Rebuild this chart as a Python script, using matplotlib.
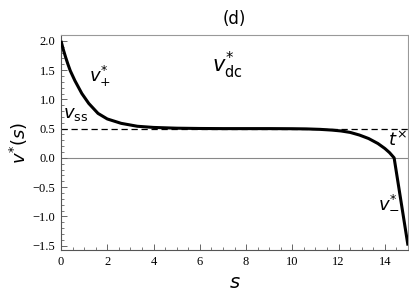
import matplotlib
matplotlib.use('Agg')
import matplotlib.pyplot as plt
from matplotlib.ticker import MultipleLocator

# curve
s_vals = [0.0, 0.1, 0.2, 0.3, 0.4, 0.6, 0.9, 1.2, 1.6, 2.0, 2.6, 3.3, 4.0, 5.0, 6.0,
          7.0, 8.0, 9.0, 10.0, 10.6, 11.2, 11.7, 12.1, 12.5, 12.9, 13.3, 13.7, 14.0,
          14.2, 14.4, 15.0]
v_vals = [2.0, 1.85, 1.72, 1.6, 1.49, 1.32, 1.10, 0.93, 0.76, 0.665, 0.59, 0.54, 0.52,
          0.507, 0.502, 0.5, 0.5, 0.5, 0.498, 0.495, 0.487, 0.475, 0.46, 0.435, 0.39,
          0.33, 0.245, 0.16, 0.09, 0.0, -1.5]
v_ss = 0.5

x_ticks = [0, 2, 4, 6, 8, 10, 12, 14]
y_ticks = [-1.5, -1.0, -0.5, 0.0, 0.5, 1.0, 1.5, 2.0]

plt.rcParams['mathtext.fontset'] = 'dejavusans'

fig = plt.figure(figsize=(4.09, 3.01), dpi=100)
ax = fig.add_axes([61 / 409, 51 / 301, 347 / 409, 215 / 301])

ax.axhline(0, color='#888888', lw=0.8, zorder=1)
ax.axhline(v_ss, color='black', lw=0.9, ls=(0, (5, 3)), zorder=2)
ax.plot(s_vals, v_vals, color='black', lw=2.2, zorder=3, solid_capstyle='butt')

ax.set_xlim(0, 15)
ax.set_ylim(-1.575, 2.1)
ax.set_xticks(x_ticks)
ax.set_yticks(y_ticks)
ax.xaxis.set_minor_locator(MultipleLocator(0.5))
ax.yaxis.set_minor_locator(MultipleLocator(0.1))
ax.tick_params(which='both', direction='in', top=False, right=False, color='#666666',
               labelsize=9, labelfontfamily='Liberation Serif', pad=4)
ax.tick_params(which='major', length=4, width=0.7)
ax.tick_params(which='minor', length=2, width=0.6)
ax.set_yticklabels(['\u22121.5', '\u22121.0', '\u22120.5', '0.0', '0.5', '1.0', '1.5', '2.0'])

for side in ['left', 'bottom']:
    ax.spines[side].set_color('#555555')
    ax.spines[side].set_linewidth(0.8)
for side in ['top', 'right']:
    ax.spines[side].set_color('#999999')
    ax.spines[side].set_linewidth(0.8)

ax.set_title('(d)', fontsize=12, pad=8)
ax.set_xlabel('$s$', fontsize=14, labelpad=4)
ax.set_ylabel('$v^{*}(s)$', fontsize=13, labelpad=2)

ax.text(7.2, 1.58, r'$v^{*}_{\mathrm{dc}}$', fontsize=15, ha='center', va='center')
ax.text(1.2, 1.4, r'$v^{*}_{+}$', fontsize=13, ha='left', va='center')
ax.text(0.1, 0.75, r'$v_{\mathrm{ss}}$', fontsize=13, ha='left', va='center')
ax.text(14.15, 0.3, r'$t^{\times}$', fontsize=13, ha='left', va='center')
ax.text(13.7, -0.75, r'$v^{*}_{-}$', fontsize=13, ha='left', va='center')

fig.savefig('out.png', dpi=100)
